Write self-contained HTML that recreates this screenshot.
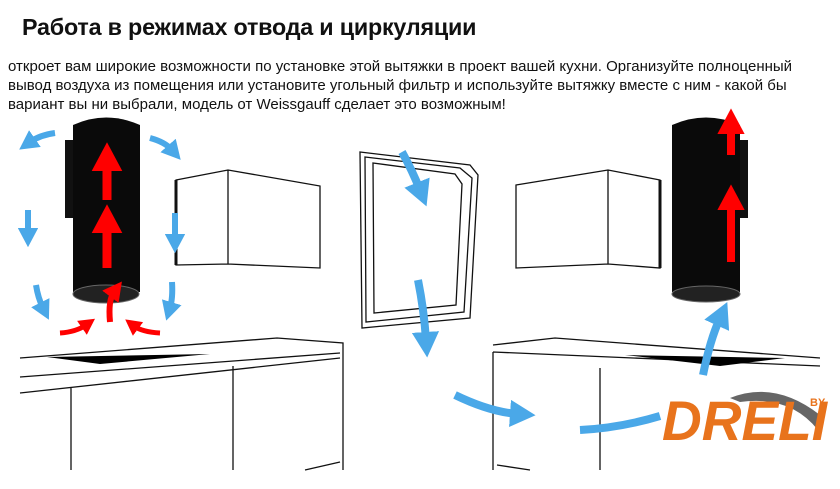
<!DOCTYPE html>
<html><head><meta charset="utf-8"><style>
body{margin:0;width:840px;height:489px;background:#fff;overflow:hidden;position:relative;font-family:"Liberation Sans",sans-serif;color:#111}
h1{position:absolute;left:22px;top:14px;margin:0;font-size:23.3px;font-weight:bold;letter-spacing:-0.2px}
p{position:absolute;left:8px;top:57px;margin:0;font-size:15px;line-height:19px;width:830px;white-space:nowrap}
svg{position:absolute;left:0;top:0}
</style></head><body>
<h1>Работа в режимах отвода и циркуляции</h1>
<p>откроет вам широкие возможности по установке этой вытяжки в проект вашей кухни. Организуйте полноценный<br>вывод воздуха из помещения или установите угольный фильтр и используйте вытяжку вместе с ним - какой бы<br>вариант вы ни выбрали, модель от Weissgauff сделает это возможным!</p>
<svg width="840" height="489" viewBox="0 0 840 489">
<defs>
<marker id="bh" markerWidth="3.2" markerHeight="3.4" refX="1" refY="1.7" orient="auto" markerUnits="strokeWidth"><path d="M0,0L3.2,1.7L0,3.4Z" fill="#4aa8e8"/></marker>
<marker id="rh" markerWidth="3.2" markerHeight="3.4" refX="1" refY="1.7" orient="auto" markerUnits="strokeWidth"><path d="M0,0L3.2,1.7L0,3.4Z" fill="#f00"/></marker>
</defs>
<g fill="none" stroke="#111" stroke-width="1.3">
<path d="M176,180L228,170L320,186L320,268L228,264L176,265Z M228,170L228,264"/>
<path d="M176,180L176,265" stroke-width="3"/>
<path d="M20,358L277,338L343,343L343,470 M20,377L340,353 M20,393L340,358 M71,388L71,470 M233,366L233,470 M305,470L340,462"/>
<path d="M516,185L608,170L660,180L660,268L608,264L516,268Z M608,170L608,264"/>
<path d="M660,180L660,268" stroke-width="3"/>
<path d="M493,345L555,338L820,358 M493,352L820,366 M493,352L493,470 M600,368L600,470 M497,465L530,470"/>
<path d="M360,152L470,165L478,175L470,318L362,328Z M365,157L460,168L472,178L464,312L366,322Z M373,163L455,174L462,184L456,305L374,313Z"/>
</g>
<path d="M47,357L210,354L100,364Z" fill="#000"/>
<path d="M625,355L785,358L720,366Z" fill="#000"/>
<rect x="65" y="140" width="10" height="78" fill="#111"/>
<path d="M73,125Q106,110 140,125L140,292L73,292Z" fill="#0a0a0a"/>
<ellipse cx="106" cy="294" rx="33" ry="9" fill="#222" stroke="#666"/>
<g stroke="#f00" stroke-width="9" fill="none">
<path d="M107,200L107,162" marker-end="url(#rh)"/>
<path d="M107,268L107,224" marker-end="url(#rh)"/>
<path d="M110,322Q108,300 114,292" marker-end="url(#rh)" stroke-width="6"/>
<path d="M60,333Q76,332 86,325" marker-end="url(#rh)" stroke-width="5"/>
<path d="M160,333Q142,332 134,326" marker-end="url(#rh)" stroke-width="5"/>
</g>
<rect x="738" y="140" width="10" height="78" fill="#111"/>
<path d="M672,125Q706,110 740,125L740,292L672,292Z" fill="#0a0a0a"/>
<ellipse cx="706" cy="294" rx="34" ry="8" fill="#222" stroke="#666"/>
<g stroke="#f00" stroke-width="8" fill="none">
<path d="M731,155L731,126" marker-end="url(#rh)"/>
<path d="M731,262L731,202" marker-end="url(#rh)"/>
</g>
<g stroke="#4aa8e8" stroke-width="6" fill="none">
<path d="M55,133Q40,135 30,142" marker-end="url(#bh)"/>
<path d="M150,138Q165,142 172,150" marker-end="url(#bh)"/>
<path d="M28,210L28,234" marker-end="url(#bh)"/>
<path d="M175,213L175,240" marker-end="url(#bh)"/>
<path d="M36,285Q38,298 43,308" marker-end="url(#bh)"/>
<path d="M172,282Q173,298 170,308" marker-end="url(#bh)"/>
<path d="M402,152Q412,170 420,190" marker-end="url(#bh)" stroke-width="8"/>
<path d="M418,280Q424,310 426,340" marker-end="url(#bh)" stroke-width="8"/>
<path d="M455,395Q490,412 518,414" marker-end="url(#bh)" stroke-width="8"/>
<path d="M580,430Q620,428 660,416" stroke-width="8"/>
<path d="M703,375Q710,340 720,318" marker-end="url(#bh)" stroke-width="8"/>
</g>
<path d="M730,398Q775,380 820,415Q826,425 818,430Q790,395 740,402Z" fill="#666"/>
<text x="810" y="406" font-family="Liberation Sans" font-weight="bold" font-size="11" fill="#e8731c">BY</text>
<text x="662" y="440" font-family="Liberation Sans" font-weight="bold" font-style="italic" font-size="56" fill="#e8731c" textLength="165" lengthAdjust="spacingAndGlyphs">DRELI</text>
</svg>
</body></html>
